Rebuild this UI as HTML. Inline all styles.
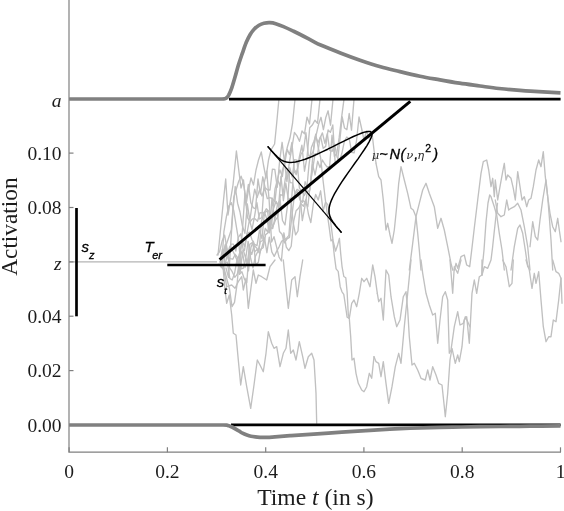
<!DOCTYPE html>
<html><head><meta charset="utf-8"><title>Diffusion model</title>
<style>html,body{margin:0;padding:0;background:#fff}svg{display:block}</style></head>
<body>
<svg width="564" height="511" viewBox="0 0 564 511">
<rect width="564" height="511" fill="#fff"/>
<g fill="none" stroke="#c0c0c0" stroke-width="1.35" stroke-linejoin="round" stroke-linecap="round">
<polyline points="376.0,163.3 378.7,176.7 381.0,180.0 383.3,200.0 386.0,230.0 387.7,223.3 390.0,235.0 392.0,243.3 394.3,230.0 396.7,206.7 398.7,183.3 401.0,166.7 404.3,180.0 407.7,193.3 411.0,208.3 413.3,210.0 416.0,216.7 417.7,233.3 419.3,250.0 421.0,270.0"/>
<polyline points="409.3,270.0 412.7,243.3 416.0,216.7 419.3,203.3 422.7,190.0 426.0,183.3 429.3,193.3 434.3,206.7 437.7,228.3 441.0,218.3 444.3,230.0 447.7,246.7 451.0,263.3 452.7,270.0"/>
<polyline points="454.3,270.0 456.0,263.3 457.7,268.3 461.0,256.7 464.3,255.0 466.7,265.0 469.7,266.7 472.2,246.0 474.3,228.0 477.7,200.0 481.0,173.3 483.3,161.7 486.7,160.0 488.7,170.0 491.0,186.7 492.7,178.3 494.3,196.7 495.3,180.0 497.7,200.0 500.0,186.7 502.7,171.7 504.3,163.3 506.0,180.0 507.7,175.0 511.0,178.3 513.3,188.3 515.3,200.0 517.7,171.7 520.0,186.7 522.0,200.0 524.3,196.7 526.7,206.7 528.7,200.0 531.0,198.3 533.3,186.7 536.0,170.0 538.7,160.0 541.0,166.7 543.3,151.7 545.3,176.7 547.7,196.7 550.0,213.3 552.7,226.7 555.3,231.7 557.7,218.3 559.3,230.0 561.0,241.7"/>
<polyline points="482.0,275.0 482.0,270.0 484.0,250.0 486.0,222.0 488.0,203.0 489.7,195.0 491.0,196.7 494.3,206.7 496.7,215.0 499.3,233.3 502.0,250.0 504.3,270.0"/>
<polyline points="495.3,200.0 497.7,213.3 501.0,216.7 504.3,215.0 506.7,200.0 508.7,210.0 511.0,208.3 514.3,206.7 517.7,203.3 521.0,210.0 524.3,226.7 527.7,246.7 530.0,270.0"/>
<polyline points="511.0,270.0 514.3,246.7 517.7,228.3 520.0,225.0 522.7,233.3 525.3,250.0 527.7,266.7"/>
<polyline points="530.0,246.7 532.7,221.7 535.3,236.7 537.7,240.0 540.0,220.0 542.7,200.0 546.0,180.0 547.7,196.7 549.3,216.7 551.0,240.0 552.7,270.0"/>
<polyline points="377.3,293.3 378.7,301.7 381.0,298.3 383.3,320.0 386.0,270.0 388.7,275.0 391.0,296.7 394.3,316.7 396.7,326.7 400.0,320.0 403.3,296.7 406.0,291.7 407.7,310.0 409.3,336.7 412.0,365.0 414.3,363.3 417.7,370.0 421.0,378.3 425.3,380.0 427.7,370.0 430.0,380.0 432.7,366.7 436.0,375.0 438.7,383.3 442.0,385.0 444.3,406.7 445.3,416.7 447.7,393.3 450.0,360.0 452.0,348.3 455.3,363.3 457.7,355.0 459.3,361.7 462.0,346.7 464.3,320.0 466.7,316.7 469.3,343.3 472.0,293.3 474.3,280.0 476.7,293.3 479.3,276.7 482.0,275.0 482.0,260.0"/>
<polyline points="482.0,275.0 484.3,266.7 487.7,268.3 491.0,260.0 492.5,248.0 494.0,234.0 496.3,213.0 497.5,203.3"/>
<polyline points="374.0,356.7 376.0,361.7 378.7,363.3 381.0,376.7 383.3,361.7 386.0,383.3 388.7,403.3 392.0,386.7 395.3,366.7 398.7,353.3 401.0,363.3 404.3,326.7 407.7,293.3 411.0,260.0"/>
<polyline points="421.0,260.0 422.7,273.3 426.0,293.3 429.3,305.0 432.7,315.0 435.3,313.3 437.7,343.3 440.0,320.0 442.7,296.7 445.3,291.7 447.7,300.0 449.3,353.3 451.0,350.0 454.3,326.7 457.7,311.7 460.0,325.0 463.3,323.3 465.3,316.7 467.7,321.7 470.0,326.7"/>
<polyline points="450.0,260.0 452.7,293.3 454.3,266.7 457.7,273.3 461.0,260.0"/>
<polyline points="502.7,260.0 506.0,266.7 509.3,286.7 512.0,283.3 513.3,260.0"/>
<polyline points="526.0,260.0 529.3,270.0 532.0,288.3 534.3,273.3 536.0,283.3 538.7,271.7 541.0,300.0 543.3,326.7 546.0,341.7 548.7,336.7 551.0,336.7 553.3,320.0 556.0,321.7 558.7,300.0 561.0,278.3 558.7,273.3 556.0,271.7 552.7,260.0"/>
<polyline points="561.0,278.3 562.0,303.3"/>
<polyline points="220.0,261.7 223.3,270.0 225.0,290.0 226.7,303.3 229.3,295.0 231.7,315.0 233.3,333.3 236.0,335.0 238.3,360.0 240.7,385.0 243.3,366.7 246.7,386.7 250.7,408.3 254.0,385.0 257.3,360.0 260.0,365.0 263.3,371.7 266.0,353.3 268.3,331.7 271.7,343.3 274.0,348.3 276.7,346.7 280.0,366.7 283.3,353.3 286.0,348.3 288.3,330.0 290.7,353.3 293.3,350.0 296.0,360.0 299.3,341.7 302.7,356.7 305.0,368.3 308.3,356.7 311.7,353.3 314.0,360.0 316.0,393.3 316.7,423.3"/>
<polyline points="220.7,261.7 223.3,266.7 226.7,286.7 231.7,285.0 235.0,288.3 238.3,281.7 241.7,276.7 243.3,290.0 246.0,278.3 248.3,308.3 250.7,290.0 253.3,270.0 256.0,283.3 258.3,275.0 261.7,276.7 266.7,280.0 270.0,266.7 275.0,260.0"/>
<polyline points="283.3,260.0 286.0,286.7 288.3,308.3 291.7,280.0 295.0,276.7 297.3,296.7 300.0,276.7 302.7,260.0"/>
<polyline points="349.3,318.3 351.7,303.3 354.0,300.0 356.7,306.7 359.3,293.3 361.7,278.3 364.0,281.7 366.7,278.3 370.0,286.7 372.7,265.0 375.0,276.7 377.3,293.3"/>
<polyline points="349.3,318.3 350.7,336.7 352.0,360.0 354.0,358.3 356.0,373.3 358.3,383.3 361.7,390.0 364.0,391.7 366.7,386.7 369.3,373.3 371.7,378.3 374.0,356.7"/>
<polyline points="221.0,266.0 223.4,250.7 225.8,244.1 228.1,258.8 230.5,247.0 232.9,211.2 235.2,186.5 237.6,203.2 240.0,212.0 242.4,226.0 244.9,233.4 247.3,203.8 249.8,220.7 252.2,204.0 254.7,189.1 257.1,197.5 259.6,189.8 262.0,196.0 264.7,187.8 267.3,198.6 269.8,197.7 272.4,198.7 274.9,201.9 277.4,179.3 279.9,169.9 282.4,176.5 285.0,156.8 287.5,146.5 290.0,137.8 292.5,123.7 295.0,99.2"/>
<polyline points="224.0,262.0 226.4,244.3 228.9,237.0 231.3,229.7 233.8,197.2 236.2,189.5 238.7,181.2 241.1,176.2 243.6,184.0 246.0,200.0 248.4,184.4 250.8,202.6 253.2,207.7 255.6,208.8 258.0,178.9 260.4,193.8 262.8,176.8 265.2,187.8 267.6,189.9 270.0,190.0 272.4,169.1 274.8,169.4 277.2,187.3 279.7,160.3 282.1,142.3 284.5,161.9 286.9,181.6 289.4,162.1 291.9,147.7 294.4,132.5 297.0,135.9 299.5,141.3 302.0,131.0 304.5,133.9 307.0,117.1 309.5,124.0 312.0,99.2"/>
<polyline points="217.0,255.0 219.5,251.8 222.1,241.1 224.6,235.1 227.2,249.3 229.7,267.9 232.2,271.7 234.8,277.3 237.3,274.2 239.8,262.4 242.4,230.7 244.9,193.8 247.5,217.6 250.0,222.0 252.5,218.8 255.0,218.8 257.5,221.3 260.0,212.6 262.5,212.8 265.0,212.4 267.5,210.6 270.0,230.2 272.5,217.9 275.0,188.9 277.5,179.3 280.0,186.0 282.4,170.2 284.8,162.8 287.2,149.4 289.6,154.6 291.9,142.4 294.3,169.7 296.7,173.1 299.3,157.2 301.9,145.2 304.5,171.2 307.1,156.6 309.7,127.7 312.3,125.1 314.9,120.2 317.5,123.3 320.0,99.2"/>
<polyline points="226.0,268.0 228.5,277.4 230.9,244.1 233.4,244.1 235.8,251.1 238.3,237.4 240.8,233.8 243.2,249.8 245.7,258.4 248.1,241.4 250.6,257.9 253.0,267.8 255.5,256.1 258.0,251.2 260.4,241.6 262.9,240.5 265.3,228.3 267.8,232.0 270.2,212.0 272.7,228.6 275.2,216.6 277.6,203.9 280.1,200.0 282.5,220.5 285.0,225.0 287.4,206.3 289.8,167.6 292.2,177.0 294.6,159.7 297.0,160.2 299.4,188.1 301.8,191.2 304.2,195.6 306.6,190.7 309.0,164.9 311.4,147.5 313.8,141.5 316.2,134.9 318.6,124.3 321.0,117.3 323.4,129.7 325.8,117.5 328.1,110.8 330.5,125.2 333.0,99.2"/>
<polyline points="222.0,260.0 224.5,270.0 227.0,279.6 229.5,288.8 232.0,306.7 234.5,302.3 237.0,284.7 239.5,257.8 242.0,251.2 244.5,250.4 247.0,233.6 249.5,232.2 252.0,239.7 254.5,244.3 257.0,245.7 259.5,230.2 262.0,238.9 264.5,211.8 267.0,219.9 269.5,232.8 272.0,198.0 274.5,219.1 277.0,210.8 279.5,231.5 282.0,234.3 284.5,242.9 287.0,238.9 289.5,237.4 292.0,215.0 294.6,193.8 297.1,189.3 299.7,191.1 302.3,220.6 304.8,207.1 307.4,191.7 310.0,190.0 312.5,164.4 315.1,175.0 317.7,161.2 320.0,167.6 322.4,160.0 324.8,164.0 327.2,167.2 329.6,166.4 332.0,135.2 334.4,156.3 336.8,153.5 339.2,137.4 341.5,118.2 344.0,99.2"/>
<polyline points="219.0,264.0 221.5,267.7 223.9,231.7 226.4,216.6 228.8,205.9 231.3,202.6 233.7,210.4 236.2,225.7 238.6,240.3 241.1,268.9 243.5,268.0 246.0,258.2 248.5,270.8 250.9,247.4 253.4,241.3 255.8,265.2 258.3,262.3 260.7,249.3 263.2,247.7 265.6,234.6 268.1,232.7 270.5,229.2 273.0,226.2 275.5,219.9 277.9,216.8 280.4,194.6 282.8,195.4 285.3,178.9 287.7,168.6 290.2,182.6 292.6,182.9 295.1,193.9 297.5,191.4 300.0,200.0 302.6,202.2 305.1,181.7 307.7,187.6 310.3,185.2 312.9,155.4 315.4,136.0 318.0,142.6 320.6,136.7 323.2,148.3 325.7,146.4 328.1,129.9 330.4,132.4 332.8,125.0 335.1,161.5 337.5,162.0 339.8,140.6 342.2,116.8 344.5,128.0 346.9,129.7 349.2,113.5 351.5,130.1 354.0,99.2"/>
<polyline points="218.0,255.0 220.0,235.0 223.0,205.0 225.7,179.0 228.0,215.0 230.5,200.0 233.0,185.0 236.4,151.0 238.5,168.0 241.0,188.0 243.5,180.0 246.0,205.0 248.5,190.0 251.0,178.0 253.5,185.0 256.0,170.0 258.5,160.0 261.3,152.0 263.5,165.0 266.0,178.0 268.5,160.0 271.0,150.0 274.6,144.0 276.8,122.0 278.9,99.2"/>
<polyline points="220.0,262.0 222.4,249.2 224.9,263.3 227.3,262.0 229.8,278.4 232.2,280.0 234.6,273.1 237.1,259.1 239.5,274.4 241.9,271.8 244.4,279.1 246.8,282.8 249.3,248.9 251.7,254.5 254.1,245.5 256.6,247.9 259.0,251.7 261.5,221.3 263.9,213.1 266.3,208.8 268.8,211.2 271.2,221.8 273.6,208.2 276.1,201.3 278.5,207.2 281.0,176.4 283.4,200.7 285.8,183.1 288.3,199.4 290.7,198.1 293.2,222.8 295.6,234.9 298.0,231.0 300.5,202.2 302.9,200.7 305.4,202.1 307.8,206.8 310.2,184.6 312.7,168.8 315.1,153.7 317.5,154.5 320.0,138.1 322.4,132.9 324.9,143.3 327.3,133.6 329.7,150.3 332.2,151.3 334.6,144.2 337.1,157.1 339.5,161.0 341.9,153.3 344.4,141.1 346.8,137.0 349.2,138.7 351.7,152.3 354.1,152.9 356.6,140.3 359.0,117.0 361.5,128.0 364.0,140.0 366.5,131.0 369.0,138.0 372.0,133.0 374.0,150.0 376.0,163.0"/>
<polyline points="223.0,259.0 225.4,244.4 227.9,256.9 230.3,258.6 232.8,259.2 235.2,254.3 237.6,257.6 240.1,272.6 242.5,252.4 245.0,267.5 247.4,262.4 249.8,244.3 252.3,242.6 254.7,251.8 257.1,249.5 259.6,253.3 262.0,247.1 264.5,237.8 266.9,252.7 269.3,237.1 271.8,251.9 274.2,256.4 276.7,251.1 279.1,246.8 281.5,241.4 284.0,239.9 286.4,238.4 288.9,235.3 291.3,204.1 293.7,170.2 296.2,174.7 298.6,164.0 301.0,154.2 303.5,150.7 305.9,132.6 308.4,155.9 310.8,155.1 313.2,151.5 315.7,134.1 318.1,147.1 320.6,157.6 323.0,180.0 324.2,190.0 325.4,200.2 327.5,215.4 329.3,228.2 331.0,240.9 332.6,239.6 334.4,256.2 336.1,268.9 338.2,271.4 340.2,286.7 342.0,291.8 343.8,294.3 345.3,304.5 347.1,317.2 349.3,318.3"/>
<polyline points="225.0,265.0 227.5,253.6 229.9,246.1 232.4,250.2 234.8,254.9 237.3,261.0 239.7,252.8 242.2,240.8 244.6,246.4 247.1,232.6 249.5,219.7 252.0,229.6 254.4,217.0 256.9,202.6 259.3,219.0 261.8,217.7 264.2,183.2 266.7,171.1 269.1,199.9 271.6,242.0 274.0,236.7 276.5,246.6 279.0,257.0 281.4,261.0 283.9,232.8 286.3,247.1 288.8,250.6 291.2,246.2 293.7,221.1 296.1,210.7 298.6,208.2 301.0,203.7 303.5,206.3 305.9,199.7 308.4,214.0 310.8,222.6 313.3,204.4 315.7,194.5 318.2,200.0 320.6,190.8 323.1,211.1 325.5,202.1 328.0,205.0 330.5,220.5 333.1,240.9 335.6,251.1 337.7,244.7 339.4,238.3 340.7,253.6 342.0,266.3 343.8,276.5 345.8,277.8 347.1,291.8 348.3,314.7 349.3,318.3"/>
</g>
<line x1="69" y1="261.8" x2="217" y2="261.8" stroke="#b4b4b4" stroke-width="1.3"/>
<g stroke="#808080" stroke-width="1.2" fill="none">
<path d="M69,0V452.2H561"/>
<line x1="69.1" y1="452.2" x2="69.1" y2="447.3"/>
<line x1="167.4" y1="452.2" x2="167.4" y2="447.3"/>
<line x1="265.7" y1="452.2" x2="265.7" y2="447.3"/>
<line x1="363.9" y1="452.2" x2="363.9" y2="447.3"/>
<line x1="462.2" y1="452.2" x2="462.2" y2="447.3"/>
<line x1="560.5" y1="452.2" x2="560.5" y2="447.3"/>
<line x1="69" y1="425.0" x2="73.5" y2="425.0"/>
<line x1="69" y1="370.6" x2="73.5" y2="370.6"/>
<line x1="69" y1="316.2" x2="73.5" y2="316.2"/>
<line x1="69" y1="261.9" x2="73.5" y2="261.9"/>
<line x1="69" y1="207.5" x2="73.5" y2="207.5"/>
<line x1="69" y1="153.1" x2="73.5" y2="153.1"/>
<line x1="69" y1="98.7" x2="73.5" y2="98.7"/>
</g>
<g stroke="#000" fill="none">
<line x1="229" y1="99.1" x2="560.6" y2="99.1" stroke-width="2.8"/>
<line x1="231" y1="424.9" x2="560.6" y2="424.9" stroke-width="2.8"/>
<line x1="76.5" y1="208" x2="76.5" y2="316.3" stroke-width="2.7"/>
<line x1="167.3" y1="265" x2="265.6" y2="265" stroke-width="2.7"/>
<line x1="219.6" y1="259.6" x2="410.3" y2="101.4" stroke-width="3"/>
<line x1="267.7" y1="146.4" x2="341.5" y2="232.6" stroke-width="1.2"/>
<path d="M267.7,146.4 L268.6,147.5 L269.6,148.5 L270.5,149.6 L271.4,150.7 L272.4,151.7 L273.3,152.8 L274.3,153.8 L275.3,154.9 L276.3,155.9 L277.3,156.9 L278.4,157.8 L279.5,158.7 L280.7,159.6 L282.0,160.3 L283.3,161.0 L284.9,161.6 L286.5,162.0 L288.4,162.3 L290.5,162.4 L292.8,162.3 L295.4,161.9 L298.3,161.3 L301.5,160.4 L305.1,159.2 L309.0,157.7 L313.2,156.0 L317.8,153.9 L322.6,151.6 L327.7,149.2 L332.9,146.6 L338.2,143.9 L343.4,141.3 L348.5,138.8 L353.4,136.5 L357.9,134.6 L361.9,133.0 L365.3,131.9 L368.1,131.4 L370.1,131.5 L371.4,132.3 L372.0,133.7 L371.8,135.7 L370.8,138.4 L369.2,141.6 L367.1,145.3 L364.4,149.5 L361.4,153.9 L358.2,158.6 L354.8,163.3 L351.4,168.1 L348.0,172.9 L344.8,177.5 L341.8,181.9 L339.1,186.1 L336.7,190.1 L334.6,193.7 L332.9,197.0 L331.5,200.1 L330.4,202.9 L329.7,205.4 L329.2,207.6 L329.0,209.7 L329.0,211.6 L329.1,213.3 L329.5,214.9 L329.9,216.4 L330.5,217.7 L331.2,219.1 L331.9,220.3 L332.6,221.5 L333.5,222.7 L334.3,223.8 L335.2,225.0 L336.0,226.1 L336.9,227.2 L337.8,228.3 L338.8,229.3 L339.7,230.4 L340.6,231.5 L341.5,232.6" stroke-width="1.5" stroke-linejoin="round"/>
</g>
<g stroke="#808080" stroke-width="3.7" fill="none" stroke-linejoin="round">
<path d="M69.1,99.0L214.0,99.0C214.7,99.0 216.7,99.0 218.0,99.0C219.3,99.0 220.9,99.0 222.0,99.0C223.1,99.0 224.0,99.0 224.8,98.8C225.6,98.6 226.2,98.2 226.8,97.6C227.5,97.0 227.9,96.6 228.7,95.1C229.5,93.5 230.6,91.1 231.6,88.3C232.6,85.5 233.4,82.4 234.6,78.5C235.8,74.6 237.2,69.0 238.5,64.8C239.8,60.6 241.1,56.9 242.4,53.1C243.7,49.4 245.0,45.4 246.3,42.3C247.6,39.2 248.9,36.7 250.2,34.5C251.5,32.3 252.6,30.7 254.1,29.2C255.6,27.7 257.4,26.3 259.0,25.3C260.6,24.3 262.1,23.7 263.9,23.3C265.7,22.9 267.8,22.6 269.8,22.7C271.8,22.8 273.4,23.0 275.7,23.7C278.0,24.4 280.6,25.4 283.5,26.6C286.4,27.8 290.0,29.5 293.3,31.1C296.6,32.7 299.5,34.1 303.1,36.0C306.7,37.9 312.2,40.8 315.0,42.3C317.8,43.8 315.7,43.0 320.0,44.8C324.3,46.6 334.3,50.6 341.0,53.2C347.7,55.8 353.4,57.9 360.0,60.2C366.6,62.5 373.8,64.9 380.5,66.8C387.2,68.7 393.4,70.0 400.0,71.6C406.6,73.2 413.3,74.8 420.0,76.2C426.7,77.6 433.4,78.7 440.0,79.9C446.6,81.1 452.9,82.2 459.6,83.2C466.3,84.2 473.4,85.1 480.0,86.0C486.6,86.9 492.3,87.8 499.0,88.5C505.7,89.2 513.4,89.9 520.0,90.4C526.6,90.9 532.0,91.3 538.7,91.7C545.5,92.1 556.9,92.6 560.5,92.8"/>
<path d="M69.1,425.0L215.0,425.0C215.7,425.0 217.7,425.0 219.0,425.0C220.3,425.0 221.7,425.0 223.0,425.0C224.3,425.0 225.7,425.1 226.7,425.2C227.7,425.3 228.1,425.5 229.0,425.8C229.9,426.1 230.4,426.2 232.0,427.0C233.6,427.8 236.7,429.7 238.4,430.7C240.2,431.7 241.1,432.5 242.5,433.2C243.9,433.9 245.5,434.5 246.9,435.0C248.3,435.5 249.6,435.9 251.0,436.2C252.4,436.5 253.9,436.7 255.4,436.9C256.9,437.1 258.4,437.2 260.0,437.3C261.6,437.4 262.5,437.5 265.0,437.4C267.5,437.3 270.8,437.1 275.0,436.8C279.2,436.5 284.2,436.1 290.0,435.7C295.8,435.3 301.4,434.9 310.0,434.3C318.6,433.7 331.8,432.9 341.8,432.2C351.8,431.5 360.3,430.9 370.0,430.3C379.7,429.7 390.0,429.1 400.0,428.6C410.0,428.2 419.7,427.9 430.0,427.6C440.3,427.3 449.9,427.2 461.6,427.0C473.3,426.8 488.6,426.6 500.0,426.5C511.4,426.4 519.9,426.3 530.0,426.2C540.1,426.1 555.4,425.9 560.5,425.9"/>
</g>
<g font-family="'Liberation Serif', serif" font-size="19.5" fill="#1c1c1c">
<text x="61.5" y="431.6" text-anchor="end">0.00</text>
<text x="61.5" y="377.2" text-anchor="end">0.02</text>
<text x="61.5" y="322.8" text-anchor="end">0.04</text>
<text x="61.5" y="214.1" text-anchor="end">0.08</text>
<text x="61.5" y="159.7" text-anchor="end">0.10</text>
<text x="61.5" y="106.6" text-anchor="end" font-style="italic">a</text>
<text x="61.5" y="269.5" text-anchor="end" font-style="italic">z</text>
<text x="69.1" y="477.6" text-anchor="middle">0</text>
<text x="167.4" y="477.6" text-anchor="middle">0.2</text>
<text x="265.7" y="477.6" text-anchor="middle">0.4</text>
<text x="363.9" y="477.6" text-anchor="middle">0.6</text>
<text x="462.2" y="477.6" text-anchor="middle">0.8</text>
<text x="560.5" y="477.6" text-anchor="middle">1</text>
</g>
<g font-family="'Liberation Serif', serif" font-size="23.6" fill="#1c1c1c">
<text x="315.4" y="505.2" text-anchor="middle">Time <tspan font-style="italic">t</tspan> (in s)</text>
<text transform="translate(17.3,226.6) rotate(-90)" text-anchor="middle" font-size="23.3">Activation</text>
</g>
<g font-family="'Liberation Sans', sans-serif" font-size="15" font-style="italic" fill="#000" stroke="#000" stroke-width="0.3">
<text x="81.5" y="251.8">s<tspan font-size="11" dy="7">z</tspan></text>
<text x="144.5" y="251.8">T<tspan font-size="11" dy="7.4" dx="-1.5">er</tspan></text>
<text x="216.8" y="287.3">s<tspan font-size="9.3" dy="6.8">t</tspan></text>
<text y="158.8" font-size="14.6"><tspan x="371.8" font-family="'DejaVu Serif', 'Liberation Serif', serif" font-size="11.6" stroke="none" fill="#2e2e2e">μ</tspan><tspan x="379.2">~</tspan><tspan x="389.6">N</tspan><tspan x="400.6">(</tspan><tspan x="406.3" font-family="'DejaVu Serif', 'Liberation Serif', serif" font-size="11.6" stroke="none" fill="#2e2e2e">ν</tspan><tspan x="414.2">,</tspan><tspan x="417.2" font-family="'DejaVu Serif', 'Liberation Serif', serif" font-size="11.6" stroke="none" fill="#2e2e2e">η</tspan><tspan x="425.3" font-size="10.4" dy="-6.8" font-style="normal">2</tspan><tspan x="433.2" dy="6.8">)</tspan></text>
</g>
</svg>
</body></html>
